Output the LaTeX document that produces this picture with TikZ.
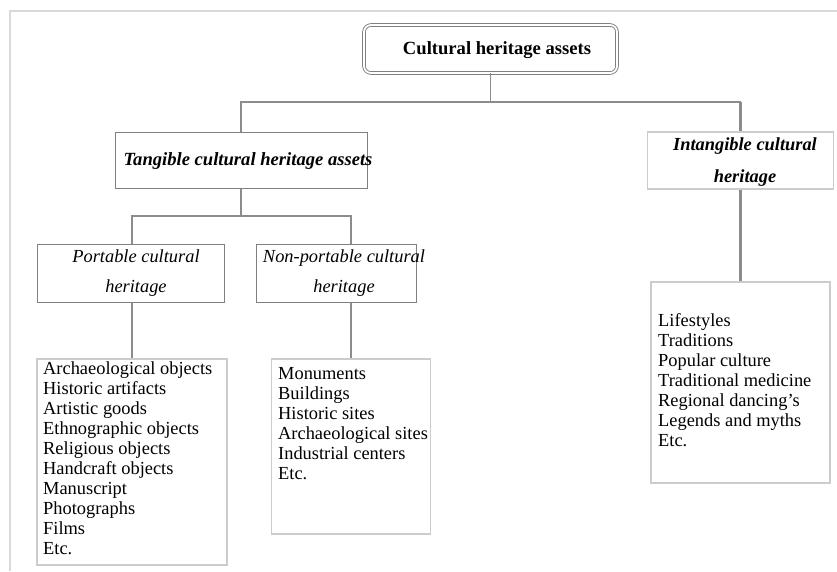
\documentclass[tikz,border=0pt]{standalone}
\usepackage{fontspec}
\setmainfont{Liberation Serif}
\tikzset{
  conn/.style={draw=black!45, line width=1.3pt},
  thickconn/.style={draw=black!45, line width=2.6pt},
  stem/.style={draw=black!45, line width=2pt},
  darkbox/.style={draw=black!50, line width=1pt, inner sep=0pt},
  lightbox/.style={draw=black!20, line width=1.2pt, inner sep=0pt},
  txt/.style={inner sep=0pt, font=\fontsize{18.4}{20}\selectfont},
  hdr/.style={inner sep=0pt, align=center, font=\fontsize{18.4}{30}\selectfont\itshape},
}
\begin{document}
\begin{tikzpicture}[x=1pt,y=-1pt]
\useasboundingbox (0,0) rectangle (837,571);
% partial frame
\draw[draw=black!15, line width=2pt] (10,571) -- (10,11) -- (837,11);

% top node
\node[draw=black!50, double=white, double distance=1.8pt, line width=0.9pt, rounded corners=7pt,
      minimum width=253pt, minimum height=48pt, inner sep=0pt] (top) at (490.5,49) {};
\node[txt, font=\fontsize{18.6}{20}\selectfont\bfseries] (topT) at (497,50) {Cultural heritage assets};

% tangible
\node[darkbox, minimum width=252pt, minimum height=56pt] (tang) at (241,160) {};
\node[txt, font=\fontsize{18.6}{20}\selectfont\bfseries\itshape] (tangT) at (248,161) {Tangible cultural heritage assets};

% intangible
\node[lightbox, minimum width=186pt, minimum height=57pt] (intang) at (740.5,160.5) {};
\node[hdr, font=\fontsize{18.4}{32}\selectfont\bfseries\itshape] (intangT) at (745,162) {Intangible cultural\\heritage};

% portable
\node[darkbox, minimum width=187pt, minimum height=58pt] (port) at (130.5,273) {};
\node[hdr] (portT) at (136,273.5) {Portable cultural\\heritage};

% non-portable
\node[darkbox, minimum width=160pt, minimum height=58pt] (np) at (336,273) {};
\node[hdr] (npT) at (344,273.5) {Non-portable cultural\\heritage};

% lists
\node[lightbox, minimum width=190pt, minimum height=206pt] (plist) at (132,462) {};
\node[txt, align=left, anchor=north west] (plistT) at (43,362) {Archaeological objects\\Historic artifacts\\Artistic goods\\Ethnographic objects\\Religious objects\\Handcraft objects\\Manuscript\\Photographs\\Films\\Etc.};

\node[lightbox, minimum width=159pt, minimum height=175pt] (nplist) at (351,446.5) {};
\node[txt, align=left, anchor=north west] (nplistT) at (278,367) {Monuments\\Buildings\\Historic sites\\Archaeological sites\\Industrial centers\\Etc.};

\node[lightbox, minimum width=179pt, minimum height=201pt] (ilist) at (740.5,382.5) {};
\node[txt, align=left, anchor=north west] (ilistT) at (658,313) {Lifestyles\\Traditions\\Popular culture\\Traditional medicine\\Regional dancing\symbol{39}s\\Legends and myths\\Etc.};

% connectors
\coordinate (jA) at (490.5,102);
\coordinate (jB) at (241,216);
\coordinate (jC) at (740.5,102);
\draw[conn] (top.south) -- (jA);
\draw[conn] (tang.north) |- (jA) -- (jC);
\draw[thickconn] (jC) -- (intang.north);
\draw[conn] (tang.south) -- (jB);
\draw[conn] (port.north -| plist.north) |- (jB) -| (np.north -| nplist.north);
\draw[stem] (port.south -| plist.north) -- (plist.north);
\draw[stem] (np.south -| nplist.north) -- (nplist.north);
\draw[thickconn] (intang.south) -- (ilist.north);
\end{tikzpicture}
\end{document}
